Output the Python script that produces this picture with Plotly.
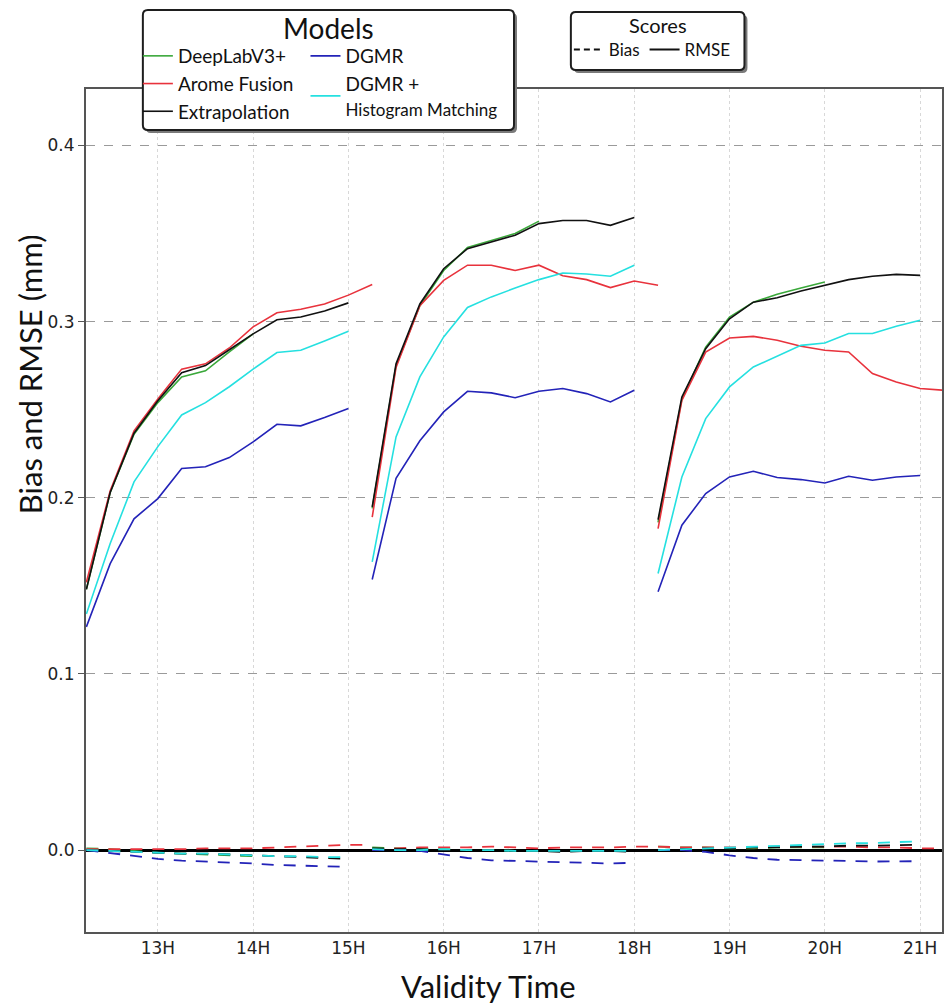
import plotly.graph_objects as go

# ---------------- data ----------------
RUN_STARTS = [12, 15, 18]                     # forecast base hours
LEAD_HOURS = [0.25, 0.5, 0.75, 1.0, 1.25, 1.5, 1.75, 2.0, 2.25, 2.5, 2.75, 3.0, 3.25]

TICK_VALUES = [13, 14, 15, 16, 17, 18, 19, 20, 21]
TICK_LABELS = ["13H", "14H", "15H", "16H", "17H", "18H", "19H", "20H", "21H"]
Y_TICKS = [0.0, 0.1, 0.2, 0.3, 0.4]

MODEL_NAMES = ["DeepLabV3+", "Arome Fusion", "Extrapolation", "DGMR",
               "DGMR +<br><span style='font-size:17px'>Histogram Matching</span>"]
MODEL_COLORS = ["#3aa83a", "#e8323c", "#111111", "#2323b8", "#25e0e0"]
MODEL_LEGENDS = ["legend", "legend", "legend", "legend3", "legend3"]

# RMSE per run (run 1, run 2, run 3)
RMSE_DEEPLAB = [
    [0.148, 0.203, 0.236, 0.254, 0.2686, 0.272, 0.2828, 0.293],
    [0.194, 0.275, 0.309, 0.329, 0.342, 0.346, 0.350, 0.357],
    [0.186, 0.256, 0.2855, 0.3025, 0.311, 0.3155, 0.319, 0.3225],
]
RMSE_AROME = [
    [0.152, 0.204, 0.238, 0.256, 0.273, 0.276, 0.285, 0.297, 0.305, 0.307, 0.310, 0.315, 0.321],
    [0.189, 0.274, 0.309, 0.3234, 0.332, 0.332, 0.329, 0.332, 0.326, 0.3238, 0.3193, 0.323, 0.3206],
    [0.1825, 0.2553, 0.2827, 0.2907, 0.2916, 0.2894, 0.286, 0.2837, 0.2827, 0.2705, 0.2657, 0.262, 0.261],
]
RMSE_EXTRAP = [
    [0.148, 0.203, 0.2366, 0.255, 0.271, 0.275, 0.284, 0.293, 0.301, 0.3026, 0.306, 0.3106],
    [0.1948, 0.276, 0.310, 0.330, 0.3414, 0.345, 0.349, 0.3556, 0.3574, 0.3574, 0.3546, 0.359],
    [0.1876, 0.2572, 0.2846, 0.3016, 0.311, 0.3135, 0.3173, 0.3206, 0.3238, 0.3257, 0.3268, 0.3262],
]
RMSE_DGMR = [
    [0.1267, 0.1626, 0.188, 0.1995, 0.2166, 0.2176, 0.2228, 0.2317, 0.2417, 0.2408, 0.2455, 0.2506],
    [0.1536, 0.211, 0.2323, 0.2487, 0.2604, 0.2595, 0.2568, 0.2604, 0.262, 0.2591, 0.2544, 0.261],
    [0.1466, 0.1844, 0.2024, 0.2118, 0.215, 0.2115, 0.2103, 0.2084, 0.2122, 0.2099, 0.2118, 0.2126],
]
RMSE_DGMR_HM = [
    [0.134, 0.174, 0.209, 0.229, 0.247, 0.254, 0.263, 0.273, 0.2824, 0.2837, 0.289, 0.2945],
    [0.1636, 0.2345, 0.2686, 0.2913, 0.308, 0.314, 0.319, 0.3238, 0.3276, 0.327, 0.3257, 0.332],
    [0.157, 0.2118, 0.2449, 0.2629, 0.2742, 0.2803, 0.2865, 0.2878, 0.2932, 0.2932, 0.2973, 0.3007],
]

# Bias per run
BIAS_DEEPLAB = [
    [0.001, 0.0005, -0.0005, -0.0015, -0.002, -0.0025, -0.003, -0.0035],
    [0.0015, 0.001, 0.0005, 0.0005, 0.0, 0.0, -0.0005, -0.0005],
    [0.002, 0.0015, 0.0015, 0.001, 0.001, 0.0015, 0.0015, 0.0015],
]
BIAS_AROME = [
    [0.0005, 0.0005, 0.0005, 0.0005, 0.0005, 0.001, 0.001, 0.001, 0.0015, 0.002, 0.0025, 0.003, 0.003],
    [0.0, 0.001, 0.0015, 0.0015, 0.0015, 0.002, 0.0015, 0.001, 0.0015, 0.0015, 0.0015, 0.002, 0.002],
    [0.002, 0.0015, 0.0015, 0.0015, 0.0015, 0.002, 0.002, 0.002, 0.002, 0.0015, 0.0015, 0.001, 0.001],
]
BIAS_EXTRAP = [
    [0.0, -0.0005, -0.001, -0.0015, -0.002, -0.002, -0.0025, -0.003, -0.0035, -0.004, -0.0045, -0.005],
    [0.001, 0.0005, 0.0005, 0.0, 0.0, 0.0, -0.0005, -0.0005, -0.001, -0.0005, -0.0005, -0.001],
    [0.0, 0.0005, 0.001, 0.001, 0.0015, 0.0015, 0.002, 0.002, 0.0025, 0.0025, 0.0028, 0.003],
]
BIAS_DGMR = [
    [0.0, -0.0017, -0.0034, -0.005, -0.006, -0.0064, -0.007, -0.0076, -0.0085, -0.0089, -0.0093, -0.0095],
    [0.0, 0.0, -0.0005, -0.0025, -0.0045, -0.0058, -0.0062, -0.0066, -0.0072, -0.0076, -0.0076, -0.0072],
    [0.0, 0.0, -0.001, -0.003, -0.0045, -0.0055, -0.0057, -0.0058, -0.0062, -0.0065, -0.0065, -0.0063],
]
BIAS_DGMR_HM = [
    [0.0, -0.0005, -0.001, -0.0015, -0.002, -0.002, -0.0025, -0.003, -0.0035, -0.0035, -0.004, -0.004],
    [0.0005, 0.0, 0.0, 0.0005, 0.0, 0.0, -0.0005, -0.0005, -0.0005, -0.0005, -0.0005, -0.0005],
    [0.0, 0.0005, 0.001, 0.0015, 0.002, 0.0025, 0.003, 0.0035, 0.0038, 0.004, 0.0045, 0.005],
]

RMSE_ALL = [RMSE_DEEPLAB, RMSE_AROME, RMSE_EXTRAP, RMSE_DGMR, RMSE_DGMR_HM]
BIAS_ALL = [BIAS_DEEPLAB, BIAS_AROME, BIAS_EXTRAP, BIAS_DGMR, BIAS_DGMR_HM]


def join_runs(runs):
    xs, ys = [], []
    for start, vals in zip(RUN_STARTS, runs):
        xs += [start + h for h in LEAD_HOURS[:len(vals)]] + [None]
        ys += list(vals) + [None]
    return xs, ys


# ---------------- layout helpers (pixel -> paper) ----------------
W, H = 946, 1008
ML, MR, MT, MB = 86, 2, 89, 76
PW, PH = W - ML - MR, H - MT - MB


def px(xp):
    return (xp - ML) / PW


def py(yp):
    return (H - MB - yp) / PH


def rounded_box(x0, y0, x1, y1, r):
    # x0,y0,x1,y1 in page pixels; returns a path in paper coords
    pts = [
        ("M", x0 + r, y0), ("L", x1 - r, y0), ("Q", x1, y0, x1, y0 + r),
        ("L", x1, y1 - r), ("Q", x1, y1, x1 - r, y1), ("L", x0 + r, y1),
        ("Q", x0, y1, x0, y1 - r), ("L", x0, y0 + r), ("Q", x0, y0, x0 + r, y0),
    ]
    out = []
    for p in pts:
        if p[0] == "Q":
            out.append(f"Q{px(p[1]):.5f},{py(p[2]):.5f} {px(p[3]):.5f},{py(p[4]):.5f}")
        else:
            out.append(f"{p[0]}{px(p[1]):.5f},{py(p[2]):.5f}")
    return " ".join(out) + " Z"


TITLE_FONT = "Lato, 'Open Sans', sans-serif"
TICK_FONT = "'DejaVu Sans', Verdana, sans-serif"

fig = go.Figure()

# bias (dashed) first so RMSE draws above
for name, color, runs in zip(MODEL_NAMES, MODEL_COLORS, BIAS_ALL):
    xs, ys = join_runs(runs)
    fig.add_trace(go.Scatter(x=xs, y=ys, mode="lines", showlegend=False,
                             line=dict(color=color, width=1.8, dash="12px,10px"),
                             hoverinfo="skip"))

for i in range(len(MODEL_NAMES)):
    xs, ys = join_runs(RMSE_ALL[i])
    fig.add_trace(go.Scatter(x=xs, y=ys, mode="lines", name=MODEL_NAMES[i],
                             legend=MODEL_LEGENDS[i],
                             line=dict(color=MODEL_COLORS[i], width=1.6)))

# Scores legend entries
fig.add_trace(go.Scatter(x=[None], y=[None], mode="lines", name="Bias", legend="legend2",
                         line=dict(color="#111111", width=2, dash="6px,4px")))
fig.add_trace(go.Scatter(x=[None], y=[None], mode="lines", name="RMSE", legend="legend2",
                         line=dict(color="#111111", width=2)))

LEG_COMMON = dict(xanchor="left", yanchor="top", bgcolor="rgba(0,0,0,0)",
                  borderwidth=0, itemwidth=30)

shapes = []
for (x0, y0, x1, y1) in [(143, 10, 515, 130), (572, 12, 746, 70)]:
    shapes.append(dict(type="path", xref="paper", yref="paper", layer="above",
                       path=rounded_box(x0 + 3, y0 + 3, x1 + 3, y1 + 3, 5),
                       fillcolor="#7a7a7a", line=dict(width=0)))
    shapes.append(dict(type="path", xref="paper", yref="paper", layer="above",
                       path=rounded_box(x0, y0, x1, y1, 5),
                       fillcolor="white", line=dict(color="#1e1e1e", width=2)))

fig.update_layout(
    width=W, height=H,
    margin=dict(l=ML, r=MR, t=MT, b=MB),
    paper_bgcolor="white", plot_bgcolor="white",
    font=dict(family=TITLE_FONT, color="#111111"),
    shapes=shapes,
    legend=dict(x=px(138), y=py(37), orientation="v",
                font=dict(family=TITLE_FONT, size=19, color="#111111"), **LEG_COMMON),
    legend3=dict(x=px(306), y=py(37), orientation="v",
                 font=dict(family=TITLE_FONT, size=19, color="#111111"), **LEG_COMMON),
    legend2=dict(x=px(570), y=py(32), orientation="h",
                 font=dict(family=TITLE_FONT, size=17, color="#111111"), **LEG_COMMON),
    annotations=[
        dict(text="Models", xref="paper", yref="paper",
             x=px(329), y=py(28), xanchor="center", yanchor="middle", showarrow=False,
             font=dict(family=TITLE_FONT, size=28, color="#111111")),
        dict(text="Scores", xref="paper", yref="paper",
             x=px(659), y=py(25), xanchor="center", yanchor="middle", showarrow=False,
             font=dict(family=TITLE_FONT, size=20, color="#111111")),
        dict(text="Bias and RMSE (mm)", xref="paper", yref="paper",
             x=px(30), y=py(374), xanchor="center", yanchor="middle",
             textangle=-90, showarrow=False,
             font=dict(family=TITLE_FONT, size=31, color="#111111")),
        dict(text="Validity Time", xref="paper", yref="paper",
             x=px(489), y=py(986), xanchor="center", yanchor="middle",
             showarrow=False,
             font=dict(family=TITLE_FONT, size=31, color="#111111")),
    ],
)

fig.update_xaxes(
    range=[12.246, 21.23],
    tickvals=TICK_VALUES, ticktext=TICK_LABELS,
    tickfont=dict(family=TICK_FONT, size=17, color="#222222"),
    showgrid=True, gridcolor="#d8d8d8", griddash="dot", gridwidth=1,
    showline=True, linecolor="#555555", linewidth=2, mirror=True,
    ticks="", zeroline=False,
)
fig.update_yaxes(
    range=[-0.0465, 0.432],
    tickvals=Y_TICKS, tickformat=".1f",
    tickfont=dict(family=TICK_FONT, size=17, color="#222222"),
    showgrid=True, gridcolor="#9a9a9a", griddash="dash", gridwidth=1,
    showline=True, linecolor="#555555", linewidth=2, mirror=True,
    ticks="outside", ticklen=6, tickcolor="#555555",
    zeroline=True, zerolinecolor="#000000", zerolinewidth=3,
)

fig.write_html(
    "out.html",
    config={"displayModeBar": False},
    post_script="document.body.style.margin='0';document.body.style.overflow='hidden';",
)
